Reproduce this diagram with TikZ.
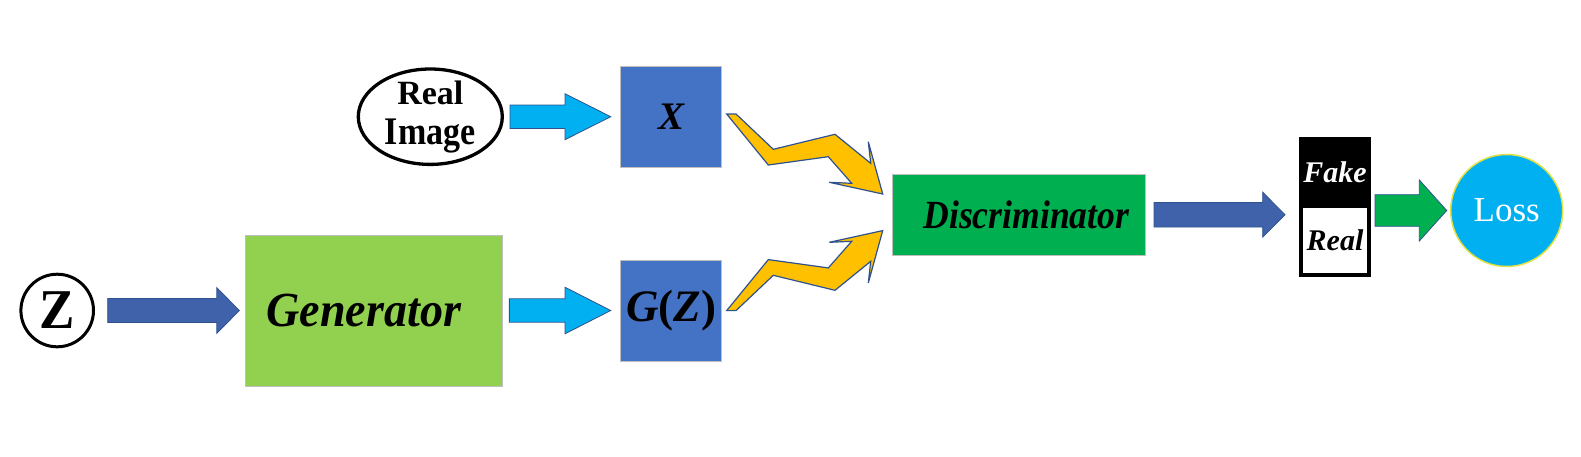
\documentclass[tikz,border=0pt]{standalone}
\usepackage{fontspec}
\setmainfont{Liberation Serif}
\usetikzlibrary{shapes.geometric,calc}
\definecolor{boxBlue}{HTML}{4472C4}
\definecolor{genGreen}{HTML}{92D050}
\definecolor{discGreen}{HTML}{00B050}
\definecolor{arrCyan}{HTML}{00B0F0}
\definecolor{arrDark}{RGB}{64,98,170}
\definecolor{edgeBlue}{HTML}{2F528F}
\definecolor{boltYellow}{HTML}{FFC000}
\definecolor{lossEdge}{RGB}{225,225,70}
\definecolor{boxEdge}{HTML}{BFBFBF}
% block arrow: style, from, to, y-ref node, gap start, gap end, body half, head half, head length
\newcommand\blockarr[9]{%
  \draw[#1] let \p1=(#2.east), \p2=(#3.west), \p3=(#4.center) in
    (\x1+#5,\y3+#7) -- (\x2-#6-#9,\y3+#7) -- (\x2-#6-#9,\y3+#8) -- (\x2-#6,\y3)
    -- (\x2-#6-#9,\y3-#8) -- (\x2-#6-#9,\y3-#7) -- (\x1+#5,\y3-#7) -- cycle;}
\tikzset{
  ringnode/.style={circle, draw=black, line width=3, fill=white, inner sep=0, outer sep=0},
  flatbox/.style={rectangle, draw=boxEdge, line width=1, inner sep=0, outer sep=0},
  darrow/.style={fill=arrDark, draw=edgeBlue, line width=0.8},
  carrow/.style={fill=arrCyan, draw=edgeBlue, line width=0.8},
  garrow/.style={fill=discGreen, draw=edgeBlue, line width=0.8},
  bolt/.style={fill=boltYellow, draw=edgeBlue, line width=1.2, line join=miter},
  bi/.style={font=\fontsize{#1}{#1}\selectfont\bfseries\itshape},
}
\begin{document}
\begin{tikzpicture}[x=1pt,y=-1pt]
\useasboundingbox (0,0) rectangle (1581,456);
\fill[white] (0,0) rectangle (1581,456);

% nodes
\node[ringnode, minimum size=72.6, font=\fontsize{53}{60}\selectfont\bfseries] (z) at (57.2,310.5)
      {\scalebox{1}[1.06]{Z}};
\node[ellipse, draw=black, line width=3.3, fill=white, inner xsep=0, inner ysep=-3, outer sep=0,
      minimum width=144, minimum height=95.4, align=center,
      font=\fontsize{34}{40}\selectfont\bfseries] (real) at (430.3,116.7) {Real\\\scalebox{1}[1.15]{Image}};
\node[flatbox, fill=genGreen, minimum width=257.7, minimum height=151, bi=49] (gen) at (373.9,310.5)
      {\hspace*{-20pt}\scalebox{0.94}[1]{Generator}};
\node[flatbox, fill=boxBlue, minimum width=101, minimum height=101, bi=39] (x) at (671.2,116.7) {X};
\node[flatbox, fill=boxBlue, minimum width=101, minimum height=101, bi=45] (gz) at (671.2,310.5)
      {G\textup{(}Z\textup{)}};
\node[flatbox, fill=discGreen, minimum width=253.4, minimum height=80.7, bi=40] (disc) at (1019,214.7)
      {\scalebox{0.89}[1]{Discriminator}\hspace*{-14.6pt}};
\node[rectangle, fill=black, inner sep=0, outer sep=0, minimum width=71.4, minimum height=70.7,
      text=white, bi=30] (fakebox) at (1335,172.65) {Fake};
\node[rectangle, fill=white, draw=black, line width=4, inner sep=0, outer sep=0,
      minimum width=67.4, minimum height=68.7, bi=30] (realbox) at (1335,240.35) {Real};
\node[circle, fill=arrCyan, draw=lossEdge, line width=1.5, inner sep=0, outer sep=0,
      minimum size=112, text=white, font=\fontsize{35}{40}\selectfont] (loss) at (1506.7,210.5) {Loss};

% block arrows
\blockarr{darrow}{z}{gen}{gen}{14.2}{5.7}{12}{22.8}{22.6}
\blockarr{carrow}{real}{x}{x}{7.7}{10}{11.7}{23}{45.7}
\blockarr{carrow}{gen}{gz}{gz}{6.6}{10}{11.7}{23.3}{45.7}
\blockarr{darrow}{disc}{fakebox}{disc}{8.3}{14.3}{12.3}{22.5}{22.3}
\blockarr{garrow}{fakebox}{loss}{loss}{4.3}{4}{15.8}{30.5}{27.4}

% lightning connectors into the discriminator
\draw[bolt, shift={(x.east)}]
  (5.0,-2.7) -- (14.3,-2.7) -- (51.6,32.6) -- (113.3,17.6) -- (149.0,46.6) -- (146.6,25.0)
  -- (161.0,77.3) -- (107.6,65.6) -- (130.0,66.6) -- (106.6,40.0) -- (46.6,48.3) -- cycle;
\draw[bolt, shift={(gz.east)}]
  (5.0,0.1) -- (14.3,0.1) -- (51.6,-35.2) -- (113.3,-20.2) -- (149.0,-49.2) -- (146.6,-27.6)
  -- (161.0,-79.9) -- (107.6,-68.2) -- (130.0,-69.2) -- (106.6,-42.6) -- (46.6,-50.9) -- cycle;
\end{tikzpicture}
\end{document}
